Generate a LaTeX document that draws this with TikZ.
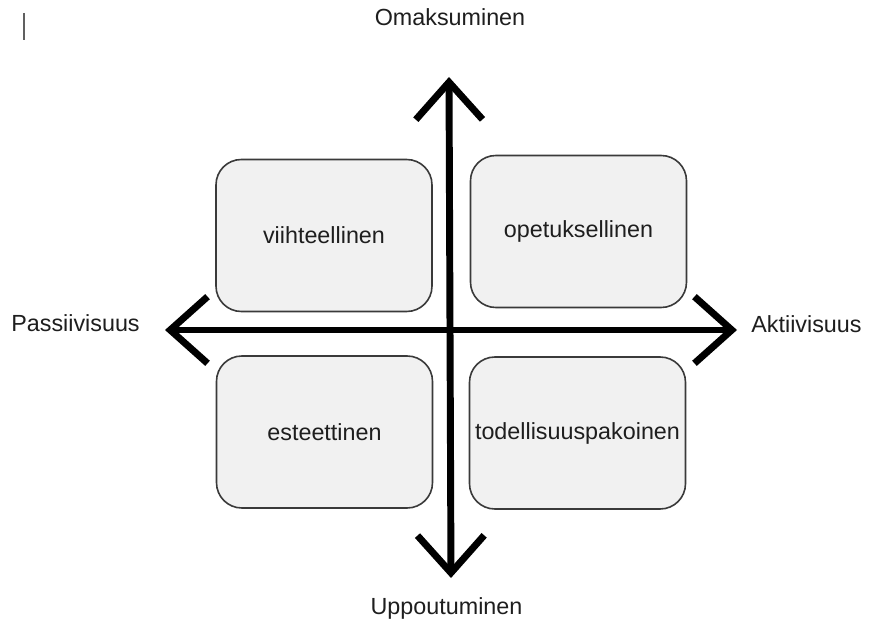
\documentclass[tikz,border=0pt]{standalone}
\usepackage{fontspec}
\setmainfont{Liberation Sans}
\usetikzlibrary{positioning,arrows.meta}
\definecolor{boxfill}{HTML}{F1F1F1}
\definecolor{boxline}{HTML}{3A3A3A}
\definecolor{txt}{HTML}{1E1E1E}

\begin{document}
\begin{tikzpicture}[
    x=0.75pt, y=-0.75pt,
    quad/.style={draw=boxline, fill=boxfill, line width=1.2pt, rounded corners=19pt, minimum width=162pt, minimum height=114pt, inner sep=0pt, font=\fontsize{17.5}{20}\selectfont, text=txt},
    axislabel/.style={anchor=base, inner sep=0pt, font=\fontsize{17.5}{20}\selectfont, text=txt},
    axis/.style={line width=5.2pt, {Straight Barb[length=28pt, width=50pt, line cap=butt, line join=miter]}-{Straight Barb[length=28pt, width=50pt, line cap=butt, line join=miter]}},
]
    \useasboundingbox (0,0) rectangle (872,624);

    % === CURSOR MARK ===
    \draw[line width=1.8pt, gray!75!black] (24,13) -- (24,40);

    % === QUADRANTS ===
    \node[quad] (viiht) at (324,235.5) {viihteellinen};
    \node[quad] (opet) at (578.5,231.5) {opetuksellinen};
    \node[quad] (estee) at (324.5,432) {esteettinen};
    \node[quad] (todel) at (577.5,433) {todellisuuspakoinen};

    % === AXIS ENDS ===
    \coordinate (ylae) at (449,77);
    \coordinate (ala) at (451,578);
    \coordinate (vasen) at (165,330);
    \coordinate (oikea) at (737,330);

    % === AXES ===
    \draw[axis] (vasen) -- (oikea);
    \draw[axis] (ala) -- (ylae);

    % === AXIS LABELS ===
    \node[axislabel] (omak) at (450,26) {Omaksuminen};
    \node[axislabel] (uppo) at (446.5,614) {Uppoutuminen};
    \node[axislabel] (pass) at (75.5,332) {Passiivisuus};
    \node[axislabel] (akti) at (806.5,333) {Aktiivisuus};
\end{tikzpicture}
\end{document}
